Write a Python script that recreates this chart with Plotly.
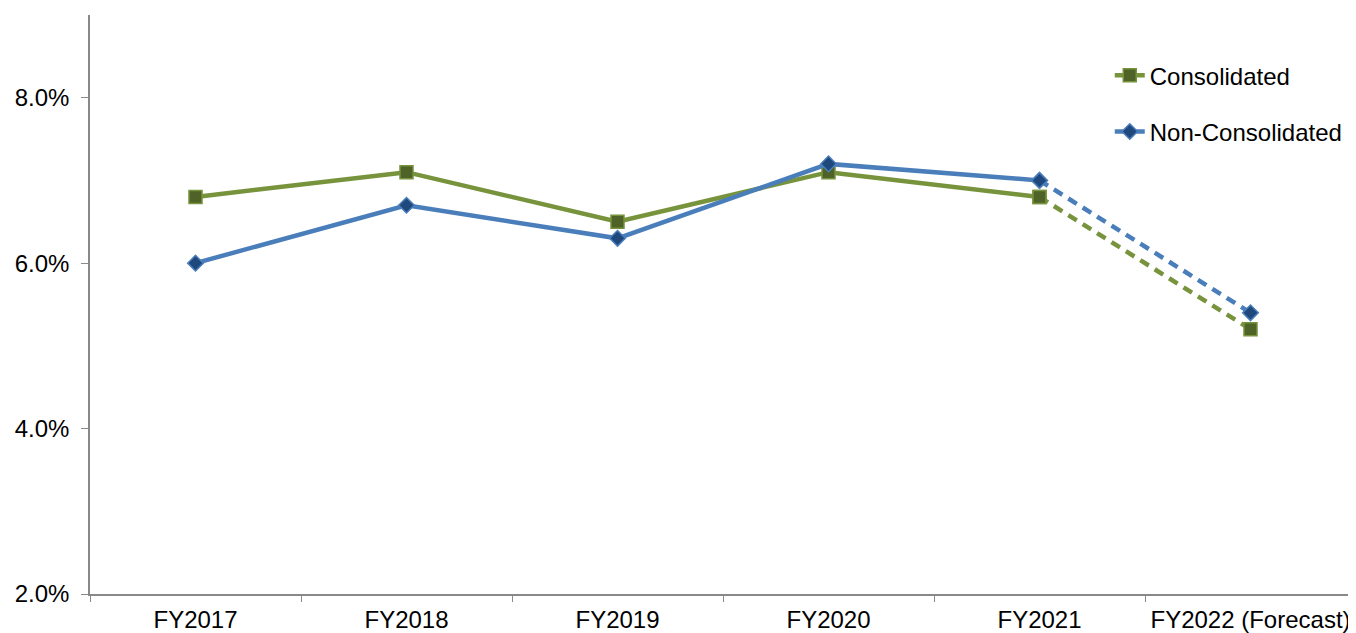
import plotly.graph_objects as go

years = ["FY2017", "FY2018", "FY2019", "FY2020", "FY2021", "FY2022 (Forecast)"]
consolidated = [6.8, 7.1, 6.5, 7.1, 6.8, 5.2]
non_consolidated = [6.0, 6.7, 6.3, 7.2, 7.0, 5.4]
y_ticks = [2.0, 4.0, 6.0, 8.0]

GREEN = "#77933C"
GREEN_DARK = "#4F6228"
BLUE = "#4A7EBB"
BLUE_DARK = "#1F497D"
AXIS_GREY = "#898989"

fig = go.Figure()

series = [
    ("Consolidated", consolidated, GREEN, GREEN_DARK, "square", 13),
    ("Non-Consolidated", non_consolidated, BLUE, BLUE_DARK, "diamond", 12),
]

for name, vals, col, dark, sym, size in series:
    marker = dict(symbol=sym, size=size, color=dark, line=dict(color=col, width=1.5))
    # results: solid line
    fig.add_trace(
        go.Scatter(
            x=years[:5],
            y=vals[:5],
            mode="lines+markers",
            name=name,
            legendgroup=name,
            line=dict(color=col, width=4.5),
            marker=marker,
        )
    )
    # forecast: dashed line
    fig.add_trace(
        go.Scatter(
            x=years[4:],
            y=vals[4:],
            mode="lines+markers",
            name=name,
            legendgroup=name,
            showlegend=False,
            line=dict(color=col, width=4.5, dash="10px,7px"),
            marker=marker,
        )
    )

# the page body has an 8px margin, so the margins are shifted to compensate
fig.update_layout(
    width=1356,
    height=633,
    template="plotly_white",
    plot_bgcolor="white",
    paper_bgcolor="white",
    font=dict(family="Liberation Sans, Arial, sans-serif", size=24, color="#000000"),
    margin=dict(l=82, r=8, t=7, b=47, autoexpand=False),
    showlegend=True,
    legend=dict(
        x=0.8055,
        y=0.934,
        xanchor="left",
        yanchor="top",
        bgcolor="rgba(0,0,0,0)",
        tracegroupgap=22,
        font=dict(size=24),
    ),
    xaxis=dict(
        type="category",
        categoryorder="array",
        categoryarray=years,
        showgrid=False,
        showline=True,
        linecolor=AXIS_GREY,
        linewidth=1.5,
        ticks="outside",
        tickson="boundaries",
        ticklen=6,
        tickcolor=AXIS_GREY,
        ticklabelstandoff=3,
        zeroline=False,
        range=[-0.5, 5.5],
    ),
    yaxis=dict(
        range=[2.0, 9.0],
        tickvals=y_ticks,
        ticktext=[f"{v:.1f}%" for v in y_ticks],
        showgrid=False,
        showline=True,
        linecolor=AXIS_GREY,
        linewidth=1.5,
        ticks="outside",
        ticklen=7,
        tickcolor=AXIS_GREY,
        ticklabelstandoff=7,
        zeroline=False,
    ),
)

fig.write_html("out.html")
